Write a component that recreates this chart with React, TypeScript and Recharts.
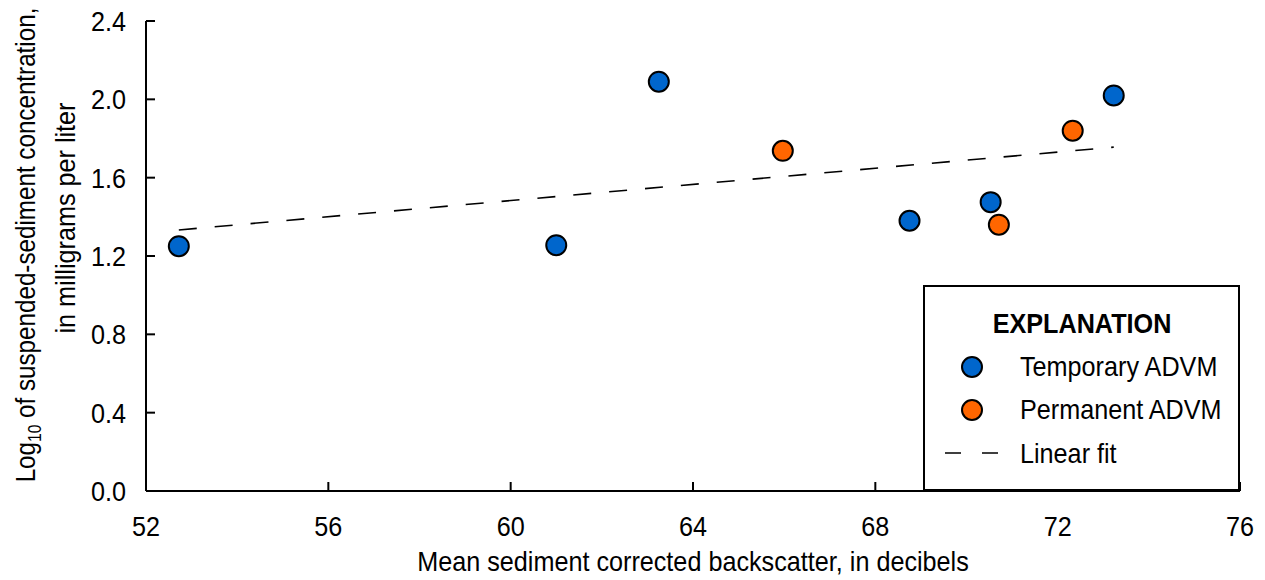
import React from "react";
import {
  ScatterChart,
  Scatter,
  XAxis,
  YAxis,
} from "recharts";

// 一時設置 ADVM
const temporaryAdvm = [
  { x: 52.72, y: 1.25 },
  { x: 61.0, y: 1.255 },
  { x: 63.25, y: 2.09 },
  { x: 68.75, y: 1.38 },
  { x: 70.53, y: 1.475 },
  { x: 73.23, y: 2.02 },
];

// 常設 ADVM
const permanentAdvm = [
  { x: 65.97, y: 1.737 },
  { x: 70.71, y: 1.36 },
  { x: 72.33, y: 1.84 },
];

// 線形近似（両端）
const linearFit = [
  { x: 52.72, y: 1.333 },
  { x: 73.23, y: 1.756 },
];

const xTicks = [52, 56, 60, 64, 68, 72, 76];
const yTicks = [0, 0.4, 0.8, 1.2, 1.6, 2.0, 2.4];

const FONT = '"Liberation Sans", Arial, sans-serif';
const SQUEEZE = 0.9; // 細長い書体の代わりに横方向を圧縮
const BLUE = "#0066CC";
const ORANGE = "#FF6600";

const Dot = ({ cx, cy, fill }: any) => (
  <circle cx={cx} cy={cy} r={10} fill={fill} stroke="#000" strokeWidth={2} />
);

// 圧縮テキスト
const Txt = ({ x, y, anchor = "start", rotate = 0, size = 28, bold = false, dy, squeeze = SQUEEZE, children }: any) => (
  <text
    transform={`translate(${x}, ${y})${rotate ? ` rotate(${rotate})` : ""} scale(${squeeze}, 1)`}
    textAnchor={anchor}
    fontSize={size}
    fontWeight={bold ? "bold" : "normal"}
    fontFamily={FONT}
    fill="#000"
    dy={dy}
  >
    {children}
  </text>
);

const XTick = ({ x, y, payload }: any) => (
  <Txt x={x} y={y} anchor="middle" dy="0.71em">{payload.value}</Txt>
);

const YTick = ({ x, y, payload }: any) => (
  <Txt x={x} y={y} anchor="end" dy="0.355em">{Number(payload.value).toFixed(1)}</Txt>
);

export default function App() {
  return (
    <div style={{ position: "absolute", left: 0, top: 0, width: 1265, height: 580, background: "#fff" }}>
      <ScatterChart width={1265} height={580} margin={{ top: 21, right: 25, left: 0, bottom: 0 }}>
        <XAxis
          xAxisId="bottom"
          type="number"
          dataKey="x"
          domain={[52, 76]}
          ticks={xTicks}
          height={89}
          tickSize={-9}
          tickMargin={34}
          stroke="#000"
          strokeWidth={2}
          tick={<XTick />}
        />
        <XAxis
          xAxisId="top"
          orientation="top"
          type="number"
          dataKey="x"
          domain={[52, 76]}
          ticks={xTicks}
          height={0}
          tickSize={-9}
          tick={false}
          stroke="#000"
          strokeWidth={2}
        />
        <YAxis
          yAxisId="left"
          type="number"
          dataKey="y"
          domain={[0, 2.4]}
          ticks={yTicks}
          width={146}
          tickSize={-9}
          tickMargin={29}
          stroke="#000"
          strokeWidth={2}
          tick={<YTick />}
        />
        <YAxis
          yAxisId="right"
          orientation="right"
          type="number"
          dataKey="y"
          domain={[0, 2.4]}
          ticks={yTicks}
          width={0}
          tickSize={-9}
          tick={false}
          stroke="#000"
          strokeWidth={2}
        />
        <Scatter
          xAxisId="bottom"
          yAxisId="left"
          data={linearFit}
          line={{ stroke: "#000", strokeWidth: 1.6, strokeDasharray: "18 18" }}
          shape={() => <g />}
          isAnimationActive={false}
        />
        <Scatter
          xAxisId="bottom"
          yAxisId="left"
          data={temporaryAdvm}
          fill={BLUE}
          shape={(p: any) => <Dot {...p} fill={BLUE} />}
          isAnimationActive={false}
        />
        <Scatter
          xAxisId="bottom"
          yAxisId="left"
          data={permanentAdvm}
          fill={ORANGE}
          shape={(p: any) => <Dot {...p} fill={ORANGE} />}
          isAnimationActive={false}
        />
        {/* 軸タイトル */}
        <Txt x={693} y={571} anchor="middle">
          Mean sediment corrected backscatter, in decibels
        </Txt>
        <Txt x={35} y={245} anchor="middle" rotate={-90} squeeze={0.865}>
          Log<tspan fontSize={18} dy={6}>10</tspan>
          <tspan dy={-6}> of suspended-sediment concentration,</tspan>
        </Txt>
        <Txt x={75} y={218} anchor="middle" rotate={-90}>
          in milligrams per liter
        </Txt>
      </ScatterChart>

      {/* 凡例 */}
      <div
        style={{
          position: "absolute",
          left: 923,
          top: 285,
          width: 317,
          height: 206,
          boxSizing: "border-box",
          border: "2px solid #000",
          background: "#fff",
        }}
      >
        <svg width={313} height={202} style={{ position: "absolute", left: 0, top: 0 }}>
          <Txt x={157} y={46} anchor="middle" bold>EXPLANATION</Txt>
          <circle cx={47} cy={80} r={10} fill={BLUE} stroke="#000" strokeWidth={2} />
          <Txt x={95} y={89}>Temporary ADVM</Txt>
          <circle cx={47} cy={123} r={10} fill={ORANGE} stroke="#000" strokeWidth={2} />
          <Txt x={95} y={132}>Permanent ADVM</Txt>
          <line x1={20} y1={166} x2={73} y2={166} stroke="#000" strokeWidth={1.6} strokeDasharray="16 21" />
          <Txt x={95} y={176}>Linear fit</Txt>
        </svg>
      </div>
    </div>
  );
}
